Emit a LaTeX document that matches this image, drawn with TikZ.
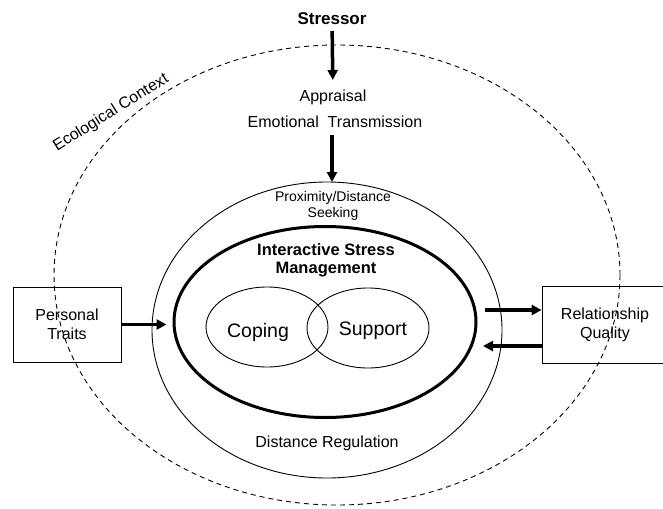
\documentclass[tikz,border=0pt]{standalone}
\usepackage{fontspec}
\setmainfont{Liberation Sans}
\usetikzlibrary{shapes.geometric,arrows.meta}
\begin{document}
\begin{tikzpicture}[x=1pt,y=-1pt,
  lbl/.style={font=\fontsize{16}{19}\selectfont, inner sep=0pt, align=center},
  ell/.style={ellipse, draw, inner sep=0pt},
  fatarrow/.style={line width=3.5pt, -{Triangle[length=10pt,width=10pt]}},
  boxnode/.style={draw, line width=0.8pt, inner sep=0pt, align=center, font=\fontsize{16}{19}\selectfont}]
\useasboundingbox (0,0) rectangle (663,508);
% ellipses
\node[ell, dashed, dash pattern=on 5pt off 4pt, line width=0.9pt, minimum width=566pt, minimum height=460pt] (eco) at (337,275) {};
\node[ell, line width=0.9pt, minimum width=350pt, minimum height=296pt] (mid) at (327,330) {};
\node[ell, line width=3pt, minimum width=302pt, minimum height=191pt] (ism) at (325,322) {};
\node[ell, line width=0.9pt, minimum width=122pt, minimum height=80pt] (cop) at (267,327) {};
\node[ell, line width=0.9pt, minimum width=122pt, minimum height=80pt] (sup) at (368,328) {};
% texts
\node[lbl, font=\fontsize{17}{20}\selectfont\bfseries] (stressor) at (332,19) {Stressor};
\node[lbl] (appraisal) at (333,97) {Appraisal};
\node[lbl] (emo) at (335,122) {Emotional\ \ Transmission};
\node[lbl, font=\fontsize{14}{16}\selectfont] (prox) at (333,206) {Proximity/Distance\\Seeking};
\node[lbl, font=\fontsize{16.5}{18}\selectfont\bfseries] (ismt) at (326,260) {Interactive Stress\\Management};
\node[lbl, font=\fontsize{19.5}{22}\selectfont] (copt) at (258,332) {Coping};
\node[lbl, font=\fontsize{19.5}{22}\selectfont] (supt) at (373,331) {Support};
\node[lbl] (dreg) at (327,443) {Distance Regulation};
\node[lbl, rotate=32] (ecot) at (111,113) {Ecological Context};
% boxes
\node[boxnode, minimum width=108pt, minimum height=75pt] (pers) at (67,324.5) {Personal\\Traits};
\node[boxnode, minimum width=126pt, minimum height=77pt] (rel) at (605,324.5) {Relationship\\Quality};
% arrows
\draw[fatarrow, shorten <=12pt, shorten >=17pt] (stressor.center) -- (appraisal.center);
\coordinate (a2e) at (332,182);
\draw[fatarrow, shorten <=13pt] (emo.center -| a2e) -- (a2e);
\draw[fatarrow, shorten >=6pt] (pers.east) -- (pers.east -| ism.west);
\coordinate (r1) at (485,310);
\coordinate (r2) at (483,346);
\draw[fatarrow] (r1) -- (r1 -| rel.west);
\draw[fatarrow] (r2 -| rel.west) -- (r2);
\end{tikzpicture}
\end{document}
